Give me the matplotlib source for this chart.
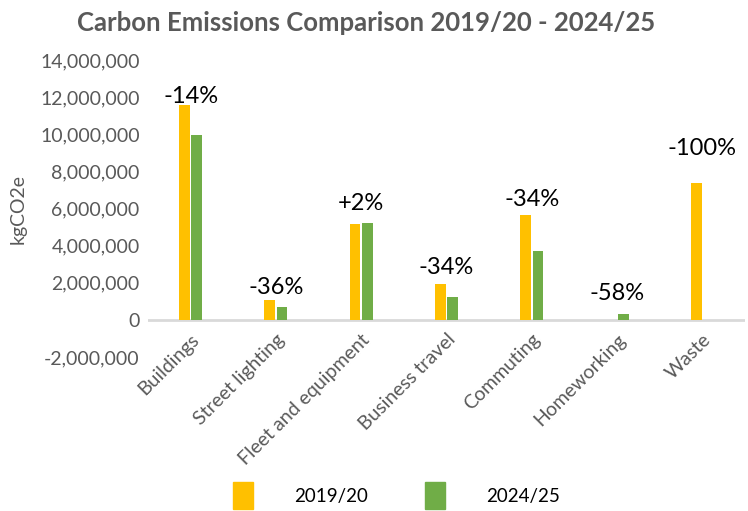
import numpy as np
import matplotlib
matplotlib.use('Agg')
import matplotlib.pyplot as plt
from matplotlib.ticker import FuncFormatter
from matplotlib.patches import Patch

categories = ['Buildings', 'Street lighting', 'Fleet and equipment', 'Business travel',
              'Commuting', 'Homeworking', 'Waste']
emissions_1920 = [11560000, 1070000, 5160000, 1920000, 5640000, 0, 7350000]
emissions_2425 = [9980000, 700000, 5210000, 1240000, 3690000, 320000, 0]
change_labels = ['-14%', '-36%', '+2%', '-34%', '-34%', '-58%', '-100%']
series_names = ['2019/20', '2024/25']

# label lift above the taller bar, in points (layout only)
label_lift = [6, 9, 14, 12, 11, 15, 25]

plt.rcParams['font.family'] = ['Lato', 'DejaVu Sans']
grey = '#595959'
yellow = '#FFC000'
green = '#70AD47'

fig = plt.figure(figsize=(7.48, 5.11), dpi=100)
ax = fig.add_axes([148 / 748, 1 - 357 / 511, (745 - 148) / 748, (357 - 60) / 511])

for s in ax.spines.values():
    s.set_visible(False)
# category labels sit next to the zero line, like the original
ax.spines['bottom'].set_position(('data', 0))

x = np.arange(len(categories))
w = 0.125
ax.bar(x - w / 2 - 0.01, emissions_1920, w, color=yellow, label=series_names[0])
ax.bar(x + w / 2 + 0.01, emissions_2425, w, color=green, label=series_names[1])

for i, lab in enumerate(change_labels):
    top = max(emissions_1920[i], emissions_2425[i])
    ax.annotate(lab, (x[i], top), xytext=(0, label_lift[i]), textcoords='offset points',
                ha='center', va='center', fontsize=17, color='black')

ax.set_xlim(-0.5, len(categories) - 0.5)
ax.set_ylim(-2000000, 14000000)
ax.set_yticks(np.arange(-2000000, 14000001, 2000000))
ax.yaxis.set_major_formatter(FuncFormatter(lambda v, p: f'{int(v):,}'))
ax.set_xticks(x)
ax.set_xticklabels(categories, rotation=45, ha='right', rotation_mode='anchor')
ax.tick_params(axis='both', length=0, colors=grey, labelsize=14)
ax.tick_params(axis='x', pad=8)
ax.tick_params(axis='y', pad=6)
ax.axhline(0, color='#d9d9d9', lw=2, zorder=0)
ax.set_ylabel('kgCO2e', color=grey, fontsize=14, labelpad=10)

fig.text(0.49, 0.955, 'Carbon Emissions Comparison 2019/20 - 2024/25', ha='center', va='center',
         fontsize=18.5, fontweight='bold', color=grey)

handles = [Patch(color=yellow), Patch(color=green)]
fig.legend(handles, series_names, loc='center', bbox_to_anchor=(0.53, 0.03), ncol=2,
           frameon=False, fontsize=13.5, handlelength=1.1, handleheight=1.8,
           columnspacing=3.0, handletextpad=2.2)

fig.savefig('out.png', dpi=100)
